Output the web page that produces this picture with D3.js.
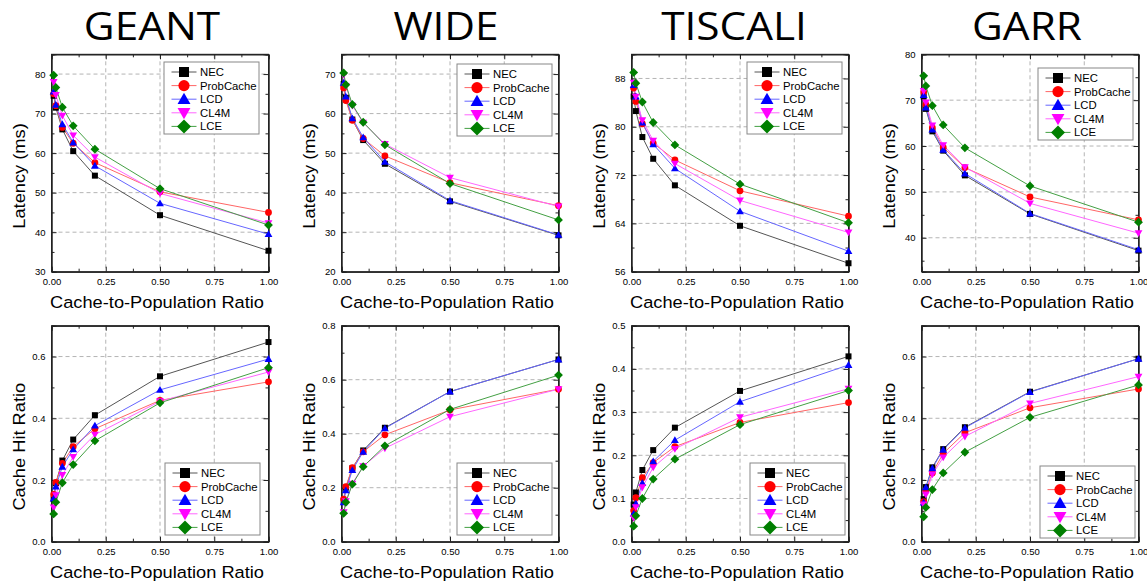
<!DOCTYPE html>
<html><head><meta charset="utf-8">
<script src="https://cdn.jsdelivr.net/npm/d3@7"></script>
<style>
html,body{margin:0;padding:0;background:#fff;}
svg{display:block;}
</style></head>
<body>
<svg id="chart" width="1147" height="586"></svg>
<script>
// ---------------- DATA ----------------
const xValues = [0.01, 0.02, 0.05, 0.1, 0.2, 0.5, 1.0];
const seriesNames = ["NEC", "ProbCache", "LCD", "CL4M", "LCE"];
const networks = ["GEANT", "WIDE", "TISCALI", "GARR"];
const xTickLabels = ["0.00", "0.25", "0.50", "0.75", "1.00"];

// latency (ms), rows in seriesNames order
const geantLatency = [
  [74.5, 71.5, 66.0, 60.5, 54.3, 44.3, 35.3],
  [75.0, 72.0, 66.5, 62.5, 57.6, 50.2, 45.0],
  [75.6, 72.2, 67.3, 62.7, 56.8, 47.3, 39.5],
  [78.0, 74.7, 69.5, 64.5, 59.0, 49.8, 42.3],
  [79.7, 76.6, 71.6, 66.9, 61.0, 51.0, 41.8]
];
const wideLatency = [
  [67.5, 64.0, 58.5, 53.3, 47.3, 37.8, 29.2],
  [66.5, 63.3, 58.3, 53.7, 49.3, 42.5, 36.7],
  [67.8, 64.3, 58.8, 54.0, 47.8, 38.0, 29.3],
  [69.8, 67.0, 62.0, 57.7, 52.3, 43.8, 36.5],
  [70.3, 67.3, 62.3, 57.8, 52.1, 42.3, 33.1]
];
const tiscaliLatency = [
  [85.0, 82.6, 78.3, 74.7, 70.3, 63.6, 57.4],
  [86.4, 84.2, 80.5, 77.3, 74.5, 69.4, 65.2],
  [86.9, 85.0, 80.7, 77.1, 73.1, 66.0, 59.4],
  [87.3, 85.0, 81.1, 77.7, 73.9, 67.8, 62.5],
  [89.0, 87.2, 84.1, 80.7, 77.0, 70.5, 64.1]
];
const garrLatency = [
  [70.8, 68.1, 63.2, 59.0, 53.6, 45.2, 37.2],
  [71.8, 69.0, 64.0, 59.7, 55.3, 48.9, 43.9],
  [71.1, 68.4, 63.6, 59.2, 54.0, 45.3, 37.4],
  [72.0, 69.5, 64.5, 60.2, 55.4, 47.5, 41.0],
  [75.3, 73.1, 68.8, 64.6, 59.6, 51.3, 43.4]
];
// cache hit ratio
const geantHit = [
  [0.138, 0.190, 0.263, 0.331, 0.410, 0.536, 0.647],
  [0.153, 0.192, 0.254, 0.308, 0.366, 0.458, 0.518],
  [0.140, 0.179, 0.243, 0.299, 0.376, 0.492, 0.592],
  [0.111, 0.151, 0.216, 0.275, 0.347, 0.455, 0.550],
  [0.090, 0.128, 0.191, 0.250, 0.327, 0.450, 0.564]
];
const wideHit = [
  [0.150, 0.200, 0.272, 0.338, 0.422, 0.556, 0.675],
  [0.158, 0.204, 0.274, 0.333, 0.396, 0.488, 0.565],
  [0.146, 0.190, 0.265, 0.333, 0.420, 0.556, 0.675],
  [0.109, 0.150, 0.215, 0.280, 0.346, 0.463, 0.565],
  [0.105, 0.146, 0.213, 0.278, 0.355, 0.490, 0.617]
];
const tiscaliHit = [
  [0.086, 0.114, 0.166, 0.212, 0.264, 0.349, 0.429],
  [0.072, 0.102, 0.148, 0.183, 0.220, 0.276, 0.322],
  [0.065, 0.088, 0.136, 0.186, 0.235, 0.324, 0.409],
  [0.055, 0.080, 0.126, 0.172, 0.215, 0.288, 0.354],
  [0.036, 0.060, 0.100, 0.145, 0.191, 0.271, 0.350]
];
const garrHit = [
  [0.138, 0.177, 0.241, 0.300, 0.371, 0.486, 0.593],
  [0.130, 0.165, 0.223, 0.286, 0.353, 0.434, 0.495],
  [0.127, 0.176, 0.238, 0.298, 0.369, 0.485, 0.593],
  [0.121, 0.153, 0.218, 0.273, 0.341, 0.448, 0.535],
  [0.081, 0.111, 0.169, 0.223, 0.290, 0.403, 0.508]
];

// y-axis tick labels / domains
const latencyDomains = [[30, 85], [20, 75], [56, 92], [32.6, 80]];
const latencyTicks = [[30, 40, 50, 60, 70, 80], [20, 30, 40, 50, 60, 70], [56, 64, 72, 80, 88], [40, 50, 60, 70, 80]];
const latencyMinor = [5, 5, 4, 5];
const hitDomains = [[0, 0.7], [0, 0.8], [0, 0.5], [0, 0.7]];
const hitTicks = [[0, 0.2, 0.4, 0.6], [0, 0.2, 0.4, 0.6, 0.8], [0, 0.1, 0.2, 0.3, 0.4, 0.5], [0, 0.2, 0.4, 0.6]];
const hitMinor = [0.1, 0.1, 0.05, 0.1];

// ---------------- STYLE / LAYOUT ----------------
const markerColors = ["#000000", "#ff0000", "#0000ff", "#ff00ff", "#007f00"];
const lineColors = ["#555555", "#ff6666", "#6666ff", "#ff66ff", "#44a044"];
const markerTypes = ["square", "circle", "triUp", "triDown", "diamond"];

const panelLefts = [51.5, 341.5, 631.5, 921.5];
const panelWidth = 217;
const rowTops = [54.3, 325.7];
const rowBottoms = [271.7, 541.7];
const titleCenters = [152, 446, 734, 1027];
const legendTopRow = [[164, 62], [457, 64], [747, 62], [1038, 68]];
const legendBottomRow = [[165, 463], [457, 463], [750, 463], [1040, 466]];

const svg = d3.select("#chart");
const FONT = "'Liberation Sans', Arial, sans-serif";

function markerPath(type, s) {
  switch (type) {
    case "square": return `M${-s},${-s}H${s}V${s}H${-s}Z`;
    case "circle": return `M${-s},0A${s},${s} 0 1,0 ${s},0A${s},${s} 0 1,0 ${-s},0Z`;
    case "triUp": { const h = s * 1.15; return `M0,${-h}L${h},${h * 0.75}L${-h},${h * 0.75}Z`; }
    case "triDown": { const h = s * 1.15; return `M0,${h}L${h},${-h * 0.75}L${-h},${-h * 0.75}Z`; }
    case "diamond": { const h = s * 1.3; return `M0,${-h}L${h},0L0,${h}L${-h},0Z`; }
  }
}
const markerHalf = { square: 3, circle: 3.4, triUp: 3.4, triDown: 3.4, diamond: 3.4 };
const legendHalf = { square: 5, circle: 5.6, triUp: 5.6, triDown: 5.6, diamond: 5.4 };

function stretchedText(parent, x, y, str, size, sx, anchor, rotate) {
  const g = parent.append("g")
    .attr("transform", `translate(${x},${y})` + (rotate ? ` rotate(${rotate})` : "") + ` scale(${sx},1)`);
  g.append("text").attr("x", 0).attr("y", 0)
    .attr("font-family", FONT).attr("font-size", size)
    .attr("text-anchor", anchor).attr("fill", "#000").text(str);
  return g;
}

function drawPanel(col, row, data, domain, ticks, minorStep, yLabel, fmt) {
  const left = panelLefts[col], right = left + panelWidth;
  const top = rowTops[row], bottom = rowBottoms[row];
  const x = d3.scaleLinear().domain([0, 1]).range([left, right]);
  const y = d3.scaleLinear().domain(domain).range([bottom, top]);
  const g = svg.append("g");

  // grid
  const gridX = [0.25, 0.5, 0.75];
  g.selectAll(".gx").data(gridX).enter().append("line")
    .attr("x1", d => x(d)).attr("x2", d => x(d)).attr("y1", top).attr("y2", bottom)
    .attr("stroke", "#b4b4b4").attr("stroke-width", 1).attr("stroke-dasharray", "4,3");
  g.selectAll(".gy").data(ticks.filter(t => y(t) > top + 1 && y(t) < bottom - 1)).enter().append("line")
    .attr("x1", left).attr("x2", right).attr("y1", d => y(d)).attr("y2", d => y(d))
    .attr("stroke", "#b4b4b4").attr("stroke-width", 1).attr("stroke-dasharray", "4,3");

  const xMajor = [0, 0.25, 0.5, 0.75, 1];
  const xMinorV = [0.125, 0.375, 0.625, 0.875];
  const yMinorV = d3.range(Math.ceil(domain[0] / minorStep) * minorStep, domain[1] + 1e-9, minorStep)
    .filter(v => !ticks.some(t => Math.abs(t - v) < 1e-9));

  const axB = d3.axisBottom(x).tickValues(xMajor).tickSize(-5).tickFormat((d, i) => xTickLabels[i]).tickPadding(7);
  g.append("g").attr("transform", `translate(0,${bottom})`).call(axB);
  g.append("g").attr("transform", `translate(0,${bottom})`).call(d3.axisBottom(x).tickValues(xMinorV).tickSize(-3).tickFormat(""));
  g.append("g").attr("transform", `translate(0,${top})`).call(d3.axisTop(x).tickValues(xMajor).tickSize(-5).tickFormat(""));
  g.append("g").attr("transform", `translate(0,${top})`).call(d3.axisTop(x).tickValues(xMinorV).tickSize(-3).tickFormat(""));

  const axL = d3.axisLeft(y).tickValues(ticks).tickSize(-5).tickFormat(fmt).tickPadding(6);
  g.append("g").attr("transform", `translate(${left},0)`).call(axL);
  g.append("g").attr("transform", `translate(${left},0)`).call(d3.axisLeft(y).tickValues(yMinorV).tickSize(-3).tickFormat(""));
  g.append("g").attr("transform", `translate(${right},0)`).call(d3.axisRight(y).tickValues(ticks.filter(t => t <= domain[1])).tickSize(-5).tickFormat(""));
  g.append("g").attr("transform", `translate(${right},0)`).call(d3.axisRight(y).tickValues(yMinorV).tickSize(-3).tickFormat(""));

  g.selectAll(".domain").attr("stroke", "#222").attr("stroke-width", 1);
  g.selectAll(".tick line").attr("stroke", "#222");
  g.selectAll(".tick text").attr("font-family", FONT).attr("font-size", 9.5).attr("fill", "#000");

  g.append("rect").attr("x", left).attr("y", top).attr("width", panelWidth).attr("height", bottom - top)
    .attr("fill", "none").attr("stroke", "#222").attr("stroke-width", 1);

  // series
  const line = d3.line().x((d, i) => x(xValues[i])).y(d => y(d));
  data.forEach((vals, si) => {
    g.append("path").datum(vals).attr("d", line).attr("fill", "none")
      .attr("stroke", lineColors[si]).attr("stroke-width", 1);
  });
  data.forEach((vals, si) => {
    g.selectAll(null).data(vals).enter().append("path")
      .attr("transform", (d, i) => `translate(${x(xValues[i])},${y(d)})`)
      .attr("d", markerPath(markerTypes[si], markerHalf[markerTypes[si]]))
      .attr("fill", markerColors[si]);
  });

  // legend
  const lp = row === 0 ? legendTopRow[col] : legendBottomRow[col];
  const lg = g.append("g").attr("transform", `translate(${lp[0]},${lp[1]})`);
  lg.append("rect").attr("x", 0).attr("y", 0).attr("width", 95).attr("height", 72)
    .attr("fill", "#fff").attr("stroke", "#888").attr("stroke-width", 1);
  seriesNames.forEach((name, si) => {
    const cy = 10 + si * 13.6;
    lg.append("line").attr("x1", 7.5).attr("x2", 32.5).attr("y1", cy).attr("y2", cy)
      .attr("stroke", lineColors[si]).attr("stroke-width", 1);
    lg.append("path").attr("transform", `translate(20,${cy})`)
      .attr("d", markerPath(markerTypes[si], legendHalf[markerTypes[si]]))
      .attr("fill", markerColors[si]);
    stretchedText(lg, 36, cy + 4, name, 10.3, 1.1, "start");
  });

  stretchedText(svg, (left + right) / 2 - 3, bottom + 36.5, "Cache-to-Population Ratio", 16.3, 1.12, "middle");
  stretchedText(svg, left - 27, (top + bottom) / 2 + 13, yLabel, 16.3, 1.12, "middle", -90);
}

const latencyData = [geantLatency, wideLatency, tiscaliLatency, garrLatency];
const hitData = [geantHit, wideHit, tiscaliHit, garrHit];

networks.forEach((name, c) => {
  drawPanel(c, 0, latencyData[c], latencyDomains[c], latencyTicks[c], latencyMinor[c], "Latency (ms)", d => d3.format("d")(d));
  drawPanel(c, 1, hitData[c], hitDomains[c], hitTicks[c], hitMinor[c], "Cache Hit Ratio", d => d3.format(".1f")(d));
  const tg = svg.append("g").attr("transform", `translate(${titleCenters[c]},39.5) scale(1.1,1)`);
  tg.append("text").attr("text-anchor", "middle").attr("font-family", "'Open Sans', sans-serif")
    .attr("font-size", 38.5).attr("fill", "#000").text(name);
});
</script>
</body></html>
